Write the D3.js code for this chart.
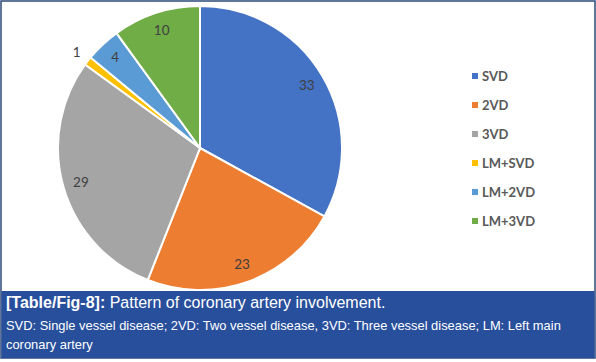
<!DOCTYPE html>
<html>
<head>
<meta charset="utf-8">
<script src="https://cdn.jsdelivr.net/npm/d3@7"></script>
<style>
  body { margin: 0; background: #fff; }
  svg { display: block; }
</style>
</head>
<body>
<svg id="pie-chart" width="596" height="362"></svg>
<script>
// data
const categories = ["SVD", "2VD", "3VD", "LM+SVD", "LM+2VD", "LM+3VD"];
const values = [33, 23, 29, 1, 4, 10];
const colors = ["#4472C4", "#ED7D31", "#A5A5A5", "#FFC000", "#5B9BD5", "#70AD47"];
const captionLines = [
    "SVD: Single vessel disease; 2VD: Two vessel disease, 3VD: Three vessel disease; LM: Left main",
    "coronary artery"
];

const svg = d3.select("#pie-chart");
const W = +svg.attr("width"), H = +svg.attr("height");

// frame
svg.append("rect")
    .attr("x", 1).attr("y", 1)
    .attr("width", W - 2).attr("height", H - 5)
    .attr("fill", "#fff")
    .attr("stroke", "#2b4a7a")
    .attr("stroke-width", 1.5);

// caption band
svg.append("rect")
    .attr("x", 1.5).attr("y", 291)
    .attr("width", W - 3).attr("height", 67)
    .attr("fill", "#284f9c");

const cx = 200, cy = 148, r = 142;
const color = d3.scaleOrdinal().domain(categories).range(colors);

const pie = d3.pie().sort(null).value(d => d.v);
const arcs = pie(categories.map((c, i) => ({ c, v: values[i] })));
const arc = d3.arc().innerRadius(0).outerRadius(r);

const g = svg.append("g").attr("transform", `translate(${cx},${cy})`);

g.selectAll("path")
    .data(arcs)
    .enter()
    .append("path")
    .attr("d", arc)
    .attr("fill", d => color(d.data.c))
    .attr("stroke", "#fff")
    .attr("stroke-width", 2);

// data labels (small slice goes outside)
const labelR = d => d.data.v < 2 ? 156 : 124;
g.selectAll(".lbl")
    .data(arcs)
    .enter()
    .append("text")
    .attr("class", "lbl")
    .attr("x", d => Math.sin((d.startAngle + d.endAngle) / 2) * labelR(d))
    .attr("y", d => -Math.cos((d.startAngle + d.endAngle) / 2) * labelR(d))
    .attr("dy", "0.35em")
    .attr("text-anchor", "middle")
    .style("font-family", "Lato, 'Open Sans', sans-serif")
    .style("font-size", "13.5px")
    .style("fill", "#404040")
    .text(d => d.data.v);

// legend
const legend = svg.append("g").attr("transform", "translate(472,76)");
categories.forEach((c, i) => {
    const row = legend.append("g").attr("transform", `translate(0,${i * 29})`);
    row.append("rect")
        .attr("x", 0).attr("y", -3)
        .attr("width", 6).attr("height", 6)
        .attr("fill", color(c));
    row.append("text")
        .attr("x", 10).attr("y", 0)
        .attr("dy", "0.35em")
        .style("font-family", "Lato, 'Open Sans', sans-serif")
        .style("font-size", "13px")
        .style("font-weight", "bold")
        .style("fill", "#595959")
        .text(c);
});

// caption text
const cap = svg.append("text")
    .attr("x", 6).attr("y", 308)
    .style("font-family", "'Liberation Sans', Arial, sans-serif")
    .style("font-size", "16px")
    .style("fill", "#fff");
cap.append("tspan").style("font-weight", "bold").text("[Table/Fig-8]:");
cap.append("tspan").text(" Pattern of coronary artery involvement.");

captionLines.forEach((t, i) => {
    svg.append("text")
        .attr("x", 6).attr("y", 330 + i * 19)
        .style("font-family", "'Liberation Sans', Arial, sans-serif")
        .style("font-size", "12.9px")
        .style("fill", "#fff")
        .text(t);
});
</script>
</body>
</html>
